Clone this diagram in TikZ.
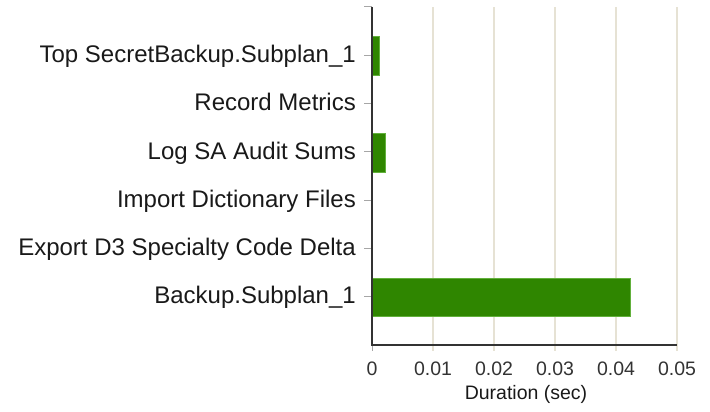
\documentclass[tikz,border=0pt]{standalone}
\usepackage{fontspec}
\setmainfont{Liberation Sans}
\usetikzlibrary{positioning}
\definecolor{gridtan}{HTML}{E6E2D4}
\definecolor{bargreen}{HTML}{2F8600}
\definecolor{baredge}{HTML}{62B03C}
\definecolor{axisgray}{HTML}{333333}

\begin{document}
\begin{tikzpicture}
    [
      x=1pt, y=-1pt,
      category/.style={anchor=base east,inner sep=0pt,text=black!90,font=\fontsize{24}{24}\selectfont},
      ticklabel/.style={anchor=center,inner sep=0pt,text=axisgray,font=\fontsize{19.5}{19.5}\selectfont},
      gridline/.style={draw=gridtan,line width=2pt},
      tickmark/.style={draw=gray!70,line width=1pt},
      axisline/.style={draw=axisgray,line width=1.8pt},
      bar/.style={fill=bargreen,draw=baredge,line width=0.8pt},
    ]

    \useasboundingbox (0,0) rectangle (710,412);

    \coordinate (origin) at (372,345);
    \coordinate (y-top) at (372,7);
    \coordinate (x-end) at (677,345);

    % grid
    \draw [gridline] (433,7) -- (433,351);
    \draw [gridline] (494,7) -- (494,351);
    \draw [gridline] (555,7) -- (555,351);
    \draw [gridline] (616,7) -- (616,351);
    \draw [gridline] (677,7) -- (677,351);
    \draw [tickmark] (372,345) -- (372,351);

    % category ticks
    \draw [tickmark] (364,7) -- (372,7);
    \draw [tickmark] (364,55.3) -- (372,55.3);
    \draw [tickmark] (364,103.6) -- (372,103.6);
    \draw [tickmark] (364,151.9) -- (372,151.9);
    \draw [tickmark] (364,200.1) -- (372,200.1);
    \draw [tickmark] (364,248.4) -- (372,248.4);
    \draw [tickmark] (364,296.7) -- (372,296.7);

    % bars
    \draw [bar] (372,36) rectangle (379.5,75);
    \draw [bar] (372,133) rectangle (385.5,172);
    \draw [bar] (372,278) rectangle (630.5,316);

    % axes
    \draw [axisline] (y-top) -- (origin) -- (x-end);

    \node (cat-topsecret) [category] at (356,62.5) {Top SecretBackup.Subplan\_1};
    \node (cat-metrics) [category] at (356,110.8) {Record Metrics};
    \node (cat-audit) [category] at (356,159.1) {Log SA Audit Sums};
    \node (cat-import) [category] at (356,207.3) {Import Dictionary Files};
    \node (cat-export) [category] at (356,255.6) {Export D3 Specialty Code Delta};
    \node (cat-backup) [category] at (356,303.9) {Backup.Subplan\_1};

    \node (tick-0) [ticklabel] at (372,369) {0};
    \node (tick-1) [ticklabel] at (433,369) {0.01};
    \node (tick-2) [ticklabel] at (494,369) {0.02};
    \node (tick-3) [ticklabel] at (555,369) {0.03};
    \node (tick-4) [ticklabel] at (616,369) {0.04};
    \node (tick-5) [ticklabel] at (677,369) {0.05};

    \node (x-title) [ticklabel,text=black!90] at (526,394) {Duration (sec)};

  \end{tikzpicture}
\end{document}
